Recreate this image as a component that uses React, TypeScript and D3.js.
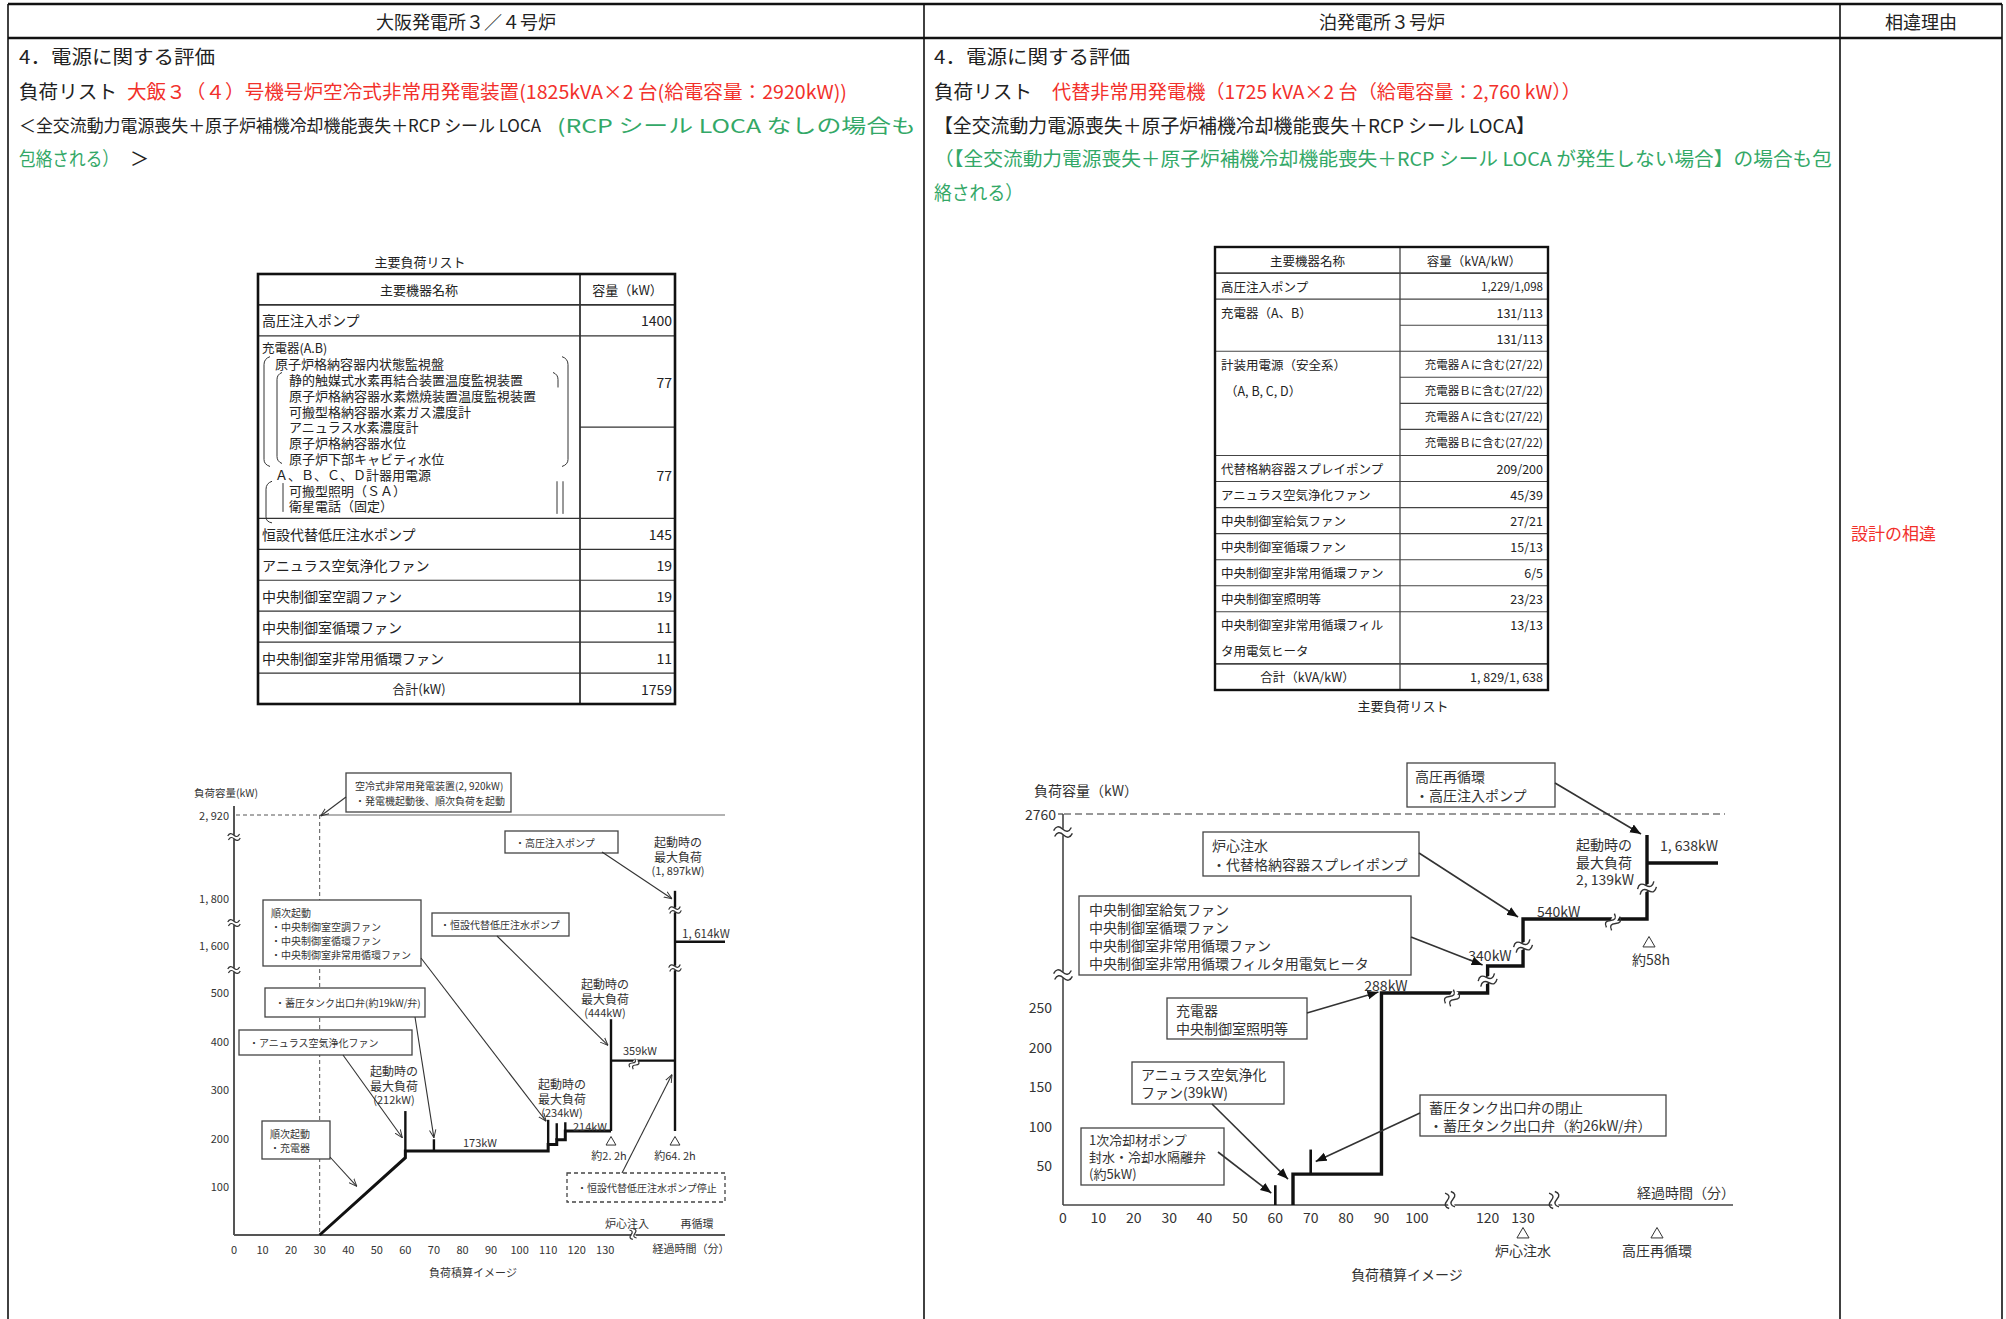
import React from "react";
import * as d3 from "d3";

type P = [number, number];

const JP = "'Noto Sans CJK JP', 'Noto Sans', sans-serif";
const RED = "#f2302b";
const GREEN = "#33a867";
const INK = "#222";

// ---------- document text ----------
const headCols = ["大阪発電所３／４号炉", "泊発電所３号炉", "相違理由"];

// ---------- 大飯 load table ----------
const ohiPump = { name: "高圧注入ポンプ", kw: "1400" };
const ohiChargerLines = [
  { t: "充電器(A.B)", lv: 0 },
  { t: "原子炉格納容器内状態監視盤", lv: 1 },
  { t: "静的触媒式水素再結合装置温度監視装置", lv: 2 },
  { t: "原子炉格納容器水素燃焼装置温度監視装置", lv: 2 },
  { t: "可搬型格納容器水素ガス濃度計", lv: 2 },
  { t: "アニュラス水素濃度計", lv: 2 },
  { t: "原子炉格納容器水位", lv: 2 },
  { t: "原子炉下部キャビティ水位", lv: 2 },
  { t: "Ａ、Ｂ、Ｃ、Ｄ計器用電源", lv: 1 },
  { t: "可搬型照明（ＳＡ）", lv: 2 },
  { t: "衛星電話（固定）", lv: 2 },
];
const ohiChargerKw = ["77", "77"];
const ohiRowNames = ["恒設代替低圧注水ポンプ", "アニュラス空気浄化ファン", "中央制御室空調ファン", "中央制御室循環ファン", "中央制御室非常用循環ファン"];
const ohiRowKw = ["145", "19", "19", "11", "11"];
const ohiTotal = "1759";

// ---------- 泊 load table ----------
const tomariRows = [
  { name: ["高圧注入ポンプ"], vals: ["1,229/1,098"], units: 1 },
  { name: ["充電器（A、B）"], vals: ["131/113", "131/113"], units: 2 },
  { name: ["計装用電源（安全系）", "（A, B, C, D）"], vals: ["充電器Ａに含む(27/22)", "充電器Ｂに含む(27/22)", "充電器Ａに含む(27/22)", "充電器Ｂに含む(27/22)"], units: 4 },
  { name: ["代替格納容器スプレイポンプ"], vals: ["209/200"], units: 1 },
  { name: ["アニュラス空気浄化ファン"], vals: ["45/39"], units: 1 },
  { name: ["中央制御室給気ファン"], vals: ["27/21"], units: 1 },
  { name: ["中央制御室循環ファン"], vals: ["15/13"], units: 1 },
  { name: ["中央制御室非常用循環ファン"], vals: ["6/5"], units: 1 },
  { name: ["中央制御室照明等"], vals: ["23/23"], units: 1 },
  { name: ["中央制御室非常用循環フィル", "タ用電気ヒータ"], vals: ["13/13"], units: 2 },
];
const tomariTotal = "1, 829/1, 638";

// ---------- 大飯 load chart (min, kW) ----------
const ohiXTicks = [0, 10, 20, 30, 40, 50, 60, 70, 80, 90, 100, 110, 120, 130];
const ohiYTicks = [100, 200, 300, 400, 500, 1600, 1800, 2920];
const ohiYTickLabels = ["100", "200", "300", "400", "500", "1, 600", "1, 800", "2, 920"];
const ohiLoadLine: P[] = [[30, 0], [60, 159], [60, 173], [110, 173], [110, 186], [113, 186], [113, 196], [116, 196], [116, 214], [132, 214]];
const ohiSpikes: [number, number, number][] = [[60, 173, 255], [70, 173, 197], [110, 186, 237], [113, 196, 230], [116, 214, 232]];
const ohiCoreLine: P[] = [[132, 214], [132, 444]];
const ohiRecircLine: P[] = [[132, 359], [3852, 359]];
const ohiPeakLine: P[] = [[3852, 214], [3852, 1897]];
const ohiSteadyKw = 1614;
const ohiCapacity = 2920;

// ---------- 泊 load chart (min, kW) ----------
const tomariXTicks = [0, 10, 20, 30, 40, 50, 60, 70, 80, 90, 100, 120, 130];
const tomariYTicks = [50, 100, 150, 200, 250];
const tomariLoadLine: P[] = [[65, 0], [65, 39], [90, 39], [90, 288], [120, 288], [120, 340], [131, 340], [131, 540], [3480, 540], [3480, 2139]];
const tomariSpikes: [number, number, number][] = [[60, 0, 25], [70, 39, 70]];
const tomariSteadyKw = 1638;
const tomariCapacity = 2760;

// scales (broken axes -> polylinear)
const lx = d3.scaleLinear().domain([0, 132, 3852]).range([234, 611, 675]);
const ly = d3.scaleLinear().domain([0, 500, 1600, 1800, 2920]).range([1235, 992, 945, 898, 815]);
const rx = d3.scaleLinear().domain([0, 130, 3480]).range([1063, 1523, 1647]);
const ry = d3.scaleLinear().domain([0, 250, 288, 340, 540, 1638, 2139, 2760]).range([1205, 1007, 993, 966, 919, 863, 835, 814]);

const lineGen = d3.line<P>();
const lPath = (pts: P[]) => lineGen(pts.map((d) => [lx(d[0]), ly(d[1])] as P)) || "";
const rPath = (pts: P[]) => lineGen(pts.map((d) => [rx(d[0]), ry(d[1])] as P)) || "";

function Brk({ x, y, rot = 0, w = 14, gap = 4, sw = 1.2 }: { x: number; y: number; rot?: number; w?: number; gap?: number; sw?: number }) {
  const h = w / 2;
  return (
    <g transform={`translate(${x},${y}) rotate(${rot})`} fill="none" stroke="#333" strokeWidth={sw}>
      <rect x={-h} y={-gap / 2} width={w} height={gap} fill="#fff" stroke="none" />
      <path d={`M${-h},${-gap / 2} q${w / 4},${-gap} ${h},0 t${h},0`} />
      <path d={`M${-h},${gap / 2} q${w / 4},${-gap} ${h},0 t${h},0`} />
    </g>
  );
}

function Box({ x, y, w, h, lines, fs, lh, pad = 8, dash }: { x: number; y: number; w: number; h: number; lines: string[]; fs: number; lh: number; pad?: number; dash?: string }) {
  return (
    <g>
      <rect x={x} y={y} width={w} height={h} fill="#fff" stroke="#444" strokeWidth={1.3} strokeDasharray={dash} />
      {lines.map((t, i) => (
        <text key={i} x={x + pad} y={y + h / 2 + (i - (lines.length - 1) / 2) * lh} fontSize={fs} dominantBaseline="central" fill="#333">{t}</text>
      ))}
    </g>
  );
}

function Arrow({ a, b, m, sw = 1.1 }: { a: P; b: P; m: string; sw?: number }) {
  return <line x1={a[0]} y1={a[1]} x2={b[0]} y2={b[1]} stroke="#333" strokeWidth={sw} markerEnd={`url(#${m})`} />;
}

function Tri({ x, y, s = 9 }: { x: number; y: number; s?: number }) {
  return <path d={`M${x},${y - s * 0.5} L${x + s * 0.55},${y + s * 0.45} L${x - s * 0.55},${y + s * 0.45} Z`} fill="#fff" stroke="#333" strokeWidth={1} />;
}

function OhiTable() {
  const x0 = 258, xm = 580, x1 = 675;
  const units = [1, 1, 5.9, ...ohiRowNames.map(() => 1), 1];
  const cum = [0, ...d3.cumsum(units)];
  const ty = d3.scaleLinear().domain([0, cum[cum.length - 1]]).range([274, 704]);
  const fs = 14;
  const chTop = ty(cum[2]);
  const lineY = (i: number) => chTop + 12 + i * 15.8;
  const indent = [262, 275, 289];
  return (
    <g fontSize={fs} fill={INK}>
      <text x={420} y={261} fontSize={13} textAnchor="middle" dominantBaseline="central">主要負荷リスト</text>
      {cum.slice(1, -1).map((c, i) => (
        <line key={i} x1={x0} x2={x1} y1={ty(c)} y2={ty(c)} stroke="#333" strokeWidth={i === 0 ? 1.8 : 1.2} />
      ))}
      <line x1={xm} x2={x1} y1={ty(cum[2] + 2.95)} y2={ty(cum[2] + 2.95)} stroke="#333" strokeWidth={1.2} />
      <line x1={xm} x2={xm} y1={ty(0)} y2={ty(cum[cum.length - 1])} stroke="#333" strokeWidth={1.8} />
      <rect x={x0} y={ty(0)} width={x1 - x0} height={ty(cum[cum.length - 1]) - ty(0)} fill="none" stroke="#111" strokeWidth={2.6} />
      <text x={(x0 + xm) / 2} y={ty(0.5)} textAnchor="middle" dominantBaseline="central" fontSize={13}>主要機器名称</text>
      <text x={(xm + x1) / 2} y={ty(0.5)} textAnchor="middle" dominantBaseline="central" fontSize={13}>容量（kW）</text>
      <text x={262} y={ty(1.5)} dominantBaseline="central">{ohiPump.name}</text>
      <text x={672} y={ty(1.5)} textAnchor="end" dominantBaseline="central">{ohiPump.kw}</text>
      {ohiChargerLines.map((l, i) => (
        <text key={i} x={indent[l.lv]} y={lineY(i)} dominantBaseline="central" fontSize={l.lv === 0 ? 12.5 : 13}>{l.t}</text>
      ))}
      {/* brackets */}
      <g fill="none" stroke="#333" strokeWidth={1}>
        <path d={`M270,${lineY(1) - 7} q-6,2 -6,8 v${lineY(7) - lineY(1)} q0,5 6,7`} />
        <path d={`M282,${lineY(2) - 7} q-5,2 -5,7 v${lineY(7) - lineY(2) - 2} q0,5 5,7`} />
        <path d={`M562,${lineY(1) - 7} q6,2 6,8 v${lineY(7) - lineY(1)} q0,5 -6,7`} />
        <path d={`M553,${lineY(2) - 7} q5,2 5,7 v8`} />
        <path d={`M272,${lineY(8) + 7} q-6,2 -6,8 v${lineY(10) - lineY(8) - 4} q0,5 6,6`} />
        <line x1={283} x2={283} y1={lineY(9) - 7} y2={lineY(10) + 6} />
        <line x1={557} x2={557} y1={lineY(8) + 7} y2={lineY(10) + 8} />
        <line x1={563} x2={563} y1={lineY(8) + 7} y2={lineY(10) + 8} />
      </g>
      <text x={672} y={ty(cum[2] + 1.5)} textAnchor="end" dominantBaseline="central">{ohiChargerKw[0]}</text>
      <text x={672} y={ty(cum[2] + 4.5)} textAnchor="end" dominantBaseline="central">{ohiChargerKw[1]}</text>
      {ohiRowNames.map((n, i) => (
        <g key={n}>
          <text x={262} y={ty(cum[3 + i] + 0.5)} dominantBaseline="central">{n}</text>
          <text x={672} y={ty(cum[3 + i] + 0.5)} textAnchor="end" dominantBaseline="central">{ohiRowKw[i]}</text>
        </g>
      ))}
      <text x={(x0 + xm) / 2} y={ty(cum[cum.length - 2] + 0.5)} textAnchor="middle" dominantBaseline="central" fontSize={13}>合計(kW)</text>
      <text x={672} y={ty(cum[cum.length - 2] + 0.5)} textAnchor="end" dominantBaseline="central">{ohiTotal}</text>
    </g>
  );
}

function TomariTable() {
  const x0 = 1215, xm = 1400, x1 = 1548;
  const units = [1, ...tomariRows.map((r) => r.units), 1];
  const cum = [0, ...d3.cumsum(units)];
  const total = cum[cum.length - 1];
  const ty = d3.scaleLinear().domain([0, total]).range([247, 690]);
  const fs = 12.5;
  return (
    <g fontSize={fs} fill={INK}>
      {cum.slice(1, -1).map((c, i) => (
        <line key={i} x1={x0} x2={x1} y1={ty(c)} y2={ty(c)} stroke="#444" strokeWidth={i === 0 || i === cum.length - 3 ? 1.8 : 1.1} />
      ))}
      {tomariRows.map((r, i) =>
        r.vals.length > 1
          ? r.vals.slice(1).map((_, j) => (
              <line key={`${i}-${j}`} x1={xm} x2={x1} y1={ty(cum[i + 1] + j + 1)} y2={ty(cum[i + 1] + j + 1)} stroke="#444" strokeWidth={1.1} />
            ))
          : null
      )}
      <line x1={xm} x2={xm} y1={ty(0)} y2={ty(total)} stroke="#444" strokeWidth={1.3} />
      <rect x={x0} y={ty(0)} width={x1 - x0} height={ty(total) - ty(0)} fill="none" stroke="#111" strokeWidth={2.4} />
      <text x={(x0 + xm) / 2} y={ty(0.5)} textAnchor="middle" dominantBaseline="central">主要機器名称</text>
      <text x={(xm + x1) / 2} y={ty(0.5)} textAnchor="middle" dominantBaseline="central">容量（kVA/kW）</text>
      {tomariRows.map((r, i) => (
        <g key={i}>
          {r.name.map((n, k) => (
            <text key={k} x={k > 0 && r.units === 4 ? 1225 : 1221} y={ty(cum[i + 1] + k + 0.5)} dominantBaseline="central">{n}</text>
          ))}
          {r.vals.map((v, k) => (
            <text key={k} x={1543} y={ty(cum[i + 1] + k + 0.5)} textAnchor="end" dominantBaseline="central" fontSize={v.length > 10 ? 11.5 : fs}>{v}</text>
          ))}
        </g>
      ))}
      <text x={(x0 + xm) / 2} y={ty(total - 0.5)} textAnchor="middle" dominantBaseline="central">合計（kVA/kW）</text>
      <text x={1543} y={ty(total - 0.5)} textAnchor="end" dominantBaseline="central">{tomariTotal}</text>
      <text x={1403} y={705} fontSize={13} textAnchor="middle" dominantBaseline="central">主要負荷リスト</text>
    </g>
  );
}

function OhiChart() {
  const axR = 725;
  const y0 = ly(0);
  const fsB = 10;
  return (
    <g fill="#333">
      <text x={194} y={792} fontSize={10.5} dominantBaseline="central">負荷容量(kW)</text>
      {/* capacity line */}
      <line x1={236} x2={lx(30)} y1={ly(ohiCapacity)} y2={ly(ohiCapacity)} stroke="#555" strokeDasharray="4,3" strokeWidth={1} />
      <line x1={lx(30)} x2={axR} y1={ly(ohiCapacity)} y2={ly(ohiCapacity)} stroke="#666" strokeWidth={1.2} />
      <line x1={lx(30)} x2={lx(30)} y1={ly(ohiCapacity)} y2={y0} stroke="#555" strokeDasharray="4,3" strokeWidth={1} />
      {/* axes */}
      <line x1={234} x2={234} y1={806} y2={y0} stroke="#555" strokeWidth={2} />
      <line x1={234} x2={axR} y1={y0} y2={y0} stroke="#555" strokeWidth={2} />
      {ohiYTicks.map((t, i) => (
        <text key={t} x={229} y={ly(t)} fontSize={11} textAnchor="end" dominantBaseline="central">{ohiYTickLabels[i]}</text>
      ))}
      {ohiXTicks.map((t) => (
        <text key={t} x={lx(t)} y={1249} fontSize={11} textAnchor="middle" dominantBaseline="central">{t}</text>
      ))}
      <Brk x={234} y={837} rot={-10} w={12} gap={4} />
      <Brk x={234} y={923} rot={-10} w={12} gap={4} />
      <Brk x={234} y={970} rot={-10} w={12} gap={4} />
      <Brk x={633} y={1234} rot={70} w={10} gap={4} />
      <text x={627} y={1223} fontSize={11} textAnchor="middle" dominantBaseline="central">炉心注入</text>
      <text x={697} y={1223} fontSize={11} textAnchor="middle" dominantBaseline="central">再循環</text>
      <text x={691} y={1248} fontSize={11} textAnchor="middle" dominantBaseline="central">経過時間（分）</text>
      <text x={473} y={1272} fontSize={11} textAnchor="middle" dominantBaseline="central">負荷積算イメージ</text>

      {/* load profile */}
      <g fill="none" stroke="#111" strokeWidth={3}>
        <path d={lPath(ohiLoadLine)} strokeLinejoin="miter" />
        {ohiSpikes.map(([t, a, b], i) => (
          <path key={i} d={lPath([[t, a], [t, b]])} strokeWidth={2.4} />
        ))}
        <path d={lPath(ohiCoreLine)} strokeWidth={2.4} />
        <path d={lPath(ohiRecircLine)} strokeWidth={2.2} />
        <path d={lPath(ohiPeakLine)} strokeWidth={2.4} />
        <line x1={lx(3852)} x2={axR} y1={ly(ohiSteadyKw)} y2={ly(ohiSteadyKw)} strokeWidth={2.4} />
      </g>
      <Brk x={634} y={1064} rot={-60} w={10} gap={4} />
      <Brk x={lx(3852)} y={910} rot={-15} w={12} gap={4} />
      <Brk x={lx(3852)} y={968} rot={-15} w={12} gap={4} />
      <Tri x={lx(132)} y={1141} />
      <Tri x={lx(3852)} y={1141} />
      <text x={lx(132) - 2} y={1155} fontSize={11} textAnchor="middle" dominantBaseline="central">約2. 2h</text>
      <text x={lx(3852)} y={1155} fontSize={11} textAnchor="middle" dominantBaseline="central">約64. 2h</text>

      {/* value labels */}
      <text x={480} y={1142} fontSize={11} textAnchor="middle" dominantBaseline="central">173kW</text>
      <text x={590} y={1126} fontSize={11} textAnchor="middle" dominantBaseline="central">214kW</text>
      <text x={640} y={1050} fontSize={11} textAnchor="middle" dominantBaseline="central">359kW</text>
      <text x={682} y={933} fontSize={11.5} dominantBaseline="central">1, 614kW</text>
      {[
        { x: 394, y: 1070, v: "(212kW)" },
        { x: 562, y: 1083, v: "(234kW)" },
        { x: 605, y: 983, v: "(444kW)" },
        { x: 678, y: 841, v: "(1, 897kW)" },
      ].map((d) => (
        <g key={d.v} fontSize={12} textAnchor="middle">
          <text x={d.x} y={d.y} dominantBaseline="central">起動時の</text>
          <text x={d.x} y={d.y + 15} dominantBaseline="central">最大負荷</text>
          <text x={d.x} y={d.y + 29} dominantBaseline="central" fontSize={11}>{d.v}</text>
        </g>
      ))}

      {/* annotation boxes */}
      <Box x={346} y={773} w={165} h={39} lines={["空冷式非常用発電装置(2, 920kW)", " ・発電機起動後、順次負荷を起動"]} fs={fsB} lh={15} pad={9} />
      <Box x={505} y={831} w={113} h={22} lines={["・高圧注入ポンプ"]} fs={fsB} lh={14} pad={10} />
      <Box x={263} y={900} w={158} h={66} lines={["順次起動", "・中央制御室空調ファン", "・中央制御室循環ファン", "・中央制御室非常用循環ファン"]} fs={fsB} lh={14} pad={8} />
      <Box x={432} y={913} w={137} h={23} lines={["・恒設代替低圧注水ポンプ"]} fs={fsB} lh={14} pad={8} />
      <Box x={265} y={988} w={160} h={29} lines={["・蓄圧タンク出口弁(約19kW/弁)"]} fs={fsB} lh={14} pad={10} />
      <Box x={239} y={1030} w={173} h={25} lines={["・アニュラス空気浄化ファン"]} fs={fsB} lh={14} pad={10} />
      <Box x={262} y={1121} w={68} h={38} lines={["順次起動", " ・充電器"]} fs={fsB} lh={14} pad={8} />
      <Box x={567} y={1173} w={158} h={29} lines={["・恒設代替低圧注水ポンプ停止"]} fs={fsB} lh={14} pad={10} dash="4,3" />

      <g>
        <Arrow a={[346, 797]} b={[lx(30) + 1, ly(ohiCapacity) + 1]} m="open" />
        <Arrow a={[602, 852]} b={[lx(3852) - 3, ly(1897) + 8]} m="open" />
        <Arrow a={[421, 958]} b={[lx(110) - 2, ly(234)]} m="open" />
        <Arrow a={[497, 936]} b={[lx(132) - 3, ly(390)]} m="open" />
        <Arrow a={[415, 1017]} b={[lx(70), ly(200)]} m="open" />
        <Arrow a={[343, 1055]} b={[lx(60) - 3, ly(200)]} m="open" />
        <Arrow a={[330, 1157]} b={[lx(43), ly(100)]} m="open" />
        <Arrow a={[622, 1173]} b={[lx(3852) - 3, ly(330)]} m="open" />
      </g>
    </g>
  );
}

function TomariChart() {
  const axR = 1733;
  const y0 = ry(0);
  const fs = 14;
  return (
    <g fill="#333">
      <text x={1034} y={790} fontSize={14} dominantBaseline="central">負荷容量（kW）</text>
      <line x1={1064} x2={1725} y1={ry(tomariCapacity)} y2={ry(tomariCapacity)} stroke="#777" strokeDasharray="7,4" strokeWidth={1.4} />
      <line x1={1063} x2={1063} y1={ry(tomariCapacity)} y2={y0} stroke="#444" strokeWidth={1.6} />
      <line x1={1063} x2={axR} y1={y0} y2={y0} stroke="#444" strokeWidth={1.6} />
      <line x1={1058} x2={1063} y1={ry(tomariCapacity)} y2={ry(tomariCapacity)} stroke="#444" strokeWidth={1.2} />
      <text x={1056} y={ry(tomariCapacity)} fontSize={14} textAnchor="end" dominantBaseline="central">{tomariCapacity}</text>
      {tomariYTicks.map((t) => (
        <text key={t} x={1052} y={ry(t)} fontSize={fs} textAnchor="end" dominantBaseline="central">{t}</text>
      ))}
      {tomariXTicks.map((t) => (
        <text key={t} x={rx(t)} y={1217} fontSize={fs} textAnchor="middle" dominantBaseline="central">{t}</text>
      ))}
      <Brk x={1063} y={832} rot={-10} w={18} gap={6} sw={1.4} />
      <Brk x={1063} y={975} rot={-10} w={18} gap={6} sw={1.4} />
      <Brk x={1450} y={1200} rot={75} w={16} gap={6} sw={1.4} />
      <Brk x={1554} y={1200} rot={75} w={16} gap={6} sw={1.4} />
      <text x={1686} y={1192} fontSize={fs} textAnchor="middle" dominantBaseline="central">経過時間（分）</text>
      <Tri x={rx(130)} y={1233} s={11} />
      <text x={rx(130)} y={1250} fontSize={fs} textAnchor="middle" dominantBaseline="central">炉心注水</text>
      <Tri x={rx(3480) + 10} y={1233} s={11} />
      <text x={rx(3480) + 10} y={1250} fontSize={fs} textAnchor="middle" dominantBaseline="central">高圧再循環</text>
      <text x={1407} y={1274} fontSize={14} textAnchor="middle" dominantBaseline="central">負荷積算イメージ</text>

      <g fill="none" stroke="#111" strokeWidth={3.4}>
        <path d={rPath(tomariLoadLine)} strokeLinejoin="miter" />
        {tomariSpikes.map(([t, a, b], i) => (
          <path key={i} d={rPath([[t, a], [t, b]])} strokeWidth={2.6} />
        ))}
        <line x1={rx(3480)} x2={1718} y1={ry(tomariSteadyKw)} y2={ry(tomariSteadyKw)} />
      </g>
      <Brk x={1452} y={998} rot={-60} w={16} gap={6} sw={1.4} />
      <Brk x={rx(120)} y={980} rot={-25} w={18} gap={6} sw={1.4} />
      <Brk x={rx(131)} y={946} rot={-25} w={18} gap={6} sw={1.4} />
      <Brk x={1613} y={922} rot={-60} w={16} gap={6} sw={1.4} />
      <Brk x={rx(3480)} y={888} rot={-25} w={18} gap={6} sw={1.4} />
      <Tri x={1649} y={942} s={11} />
      <text x={1651} y={959} fontSize={fs} textAnchor="middle" dominantBaseline="central">約58h</text>

      <text x={1386} y={985} fontSize={fs} textAnchor="middle" dominantBaseline="central">288kW</text>
      <text x={1490} y={955} fontSize={fs} textAnchor="middle" dominantBaseline="central">340kW</text>
      <text x={1537} y={911} fontSize={fs} dominantBaseline="central">540kW</text>
      <text x={1660} y={845} fontSize={fs} dominantBaseline="central">1, 638kW</text>
      <g fontSize={fs}>
        <text x={1576} y={844} dominantBaseline="central">起動時の</text>
        <text x={1576} y={862} dominantBaseline="central">最大負荷</text>
        <text x={1576} y={879} dominantBaseline="central">2, 139kW</text>
      </g>

      <Box x={1407} y={763} w={148} h={44} lines={["高圧再循環", " ・高圧注入ポンプ"]} fs={fs} lh={19} pad={8} />
      <Box x={1203} y={832} w={216} h={44} lines={["炉心注水", " ・代替格納容器スプレイポンプ"]} fs={fs} lh={19} pad={9} />
      <Box x={1079} y={896} w={332} h={79} lines={["中央制御室給気ファン", "中央制御室循環ファン", "中央制御室非常用循環ファン", "中央制御室非常用循環フィルタ用電気ヒータ"]} fs={fs} lh={18} pad={10} />
      <Box x={1167} y={998} w={140} h={41} lines={["充電器", "中央制御室照明等"]} fs={fs} lh={18} pad={9} />
      <Box x={1132} y={1062} w={152} h={42} lines={["アニュラス空気浄化", "ファン(39kW)"]} fs={fs} lh={18} pad={9} />
      <Box x={1081} y={1128} w={143} h={57} lines={["1次冷却材ポンプ", "封水・冷却水隔離弁", "(約5kW)"]} fs={13} lh={17} pad={8} />
      <Box x={1420} y={1095} w={246} h={41} lines={["蓄圧タンク出口弁の閉止", "・蓄圧タンク出口弁（約26kW/弁）"]} fs={fs} lh={18} pad={9} />

      <g>
        <Arrow a={[1555, 783]} b={[rx(3480) - 6, ry(2139) - 1]} m="solid" sw={1.6} />
        <Arrow a={[1419, 853]} b={[rx(131) - 5, ry(540) - 2]} m="solid" sw={1.6} />
        <Arrow a={[1411, 937]} b={[rx(120) - 5, ry(340) - 1]} m="solid" sw={1.6} />
        <Arrow a={[1307, 1013]} b={[rx(90) - 3, ry(288) - 1]} m="solid" sw={1.6} />
        <Arrow a={[1212, 1104]} b={[rx(65) - 5, ry(39) + 5]} m="solid" sw={1.6} />
        <Arrow a={[1218, 1152]} b={[rx(60) - 4, ry(15)]} m="solid" sw={1.6} />
        <Arrow a={[1420, 1113]} b={[rx(70) + 5, ry(55)]} m="solid" sw={1.6} />
      </g>
    </g>
  );
}

export default function App() {
  const W = 2006, H = 1319;
  const cols = [8, 924, 1840, 2002];
  return (
    <svg width={W} height={H} style={{ position: "absolute", left: 0, top: 0, background: "#fff" }} fontFamily={JP}>
      <defs>
        <marker id="open" viewBox="0 0 10 10" refX="10" refY="5" markerWidth="8" markerHeight="8" orient="auto" markerUnits="userSpaceOnUse">
          <path d="M0,1 L10,5 L0,9" fill="none" stroke="#333" strokeWidth="1.2" />
        </marker>
        <marker id="solid" viewBox="0 0 10 10" refX="10" refY="5" markerWidth="11" markerHeight="11" orient="auto" markerUnits="userSpaceOnUse">
          <path d="M0,1 L10,5 L0,9 Z" fill="#111" />
        </marker>
      </defs>
      <rect width={W} height={H} fill="#fff" />

      {/* document grid */}
      <line x1={cols[0]} x2={cols[3]} y1={4} y2={4} stroke="#111" strokeWidth={2.6} />
      <line x1={cols[0]} x2={cols[3]} y1={38} y2={38} stroke="#111" strokeWidth={2.6} />
      {cols.map((c) => (
        <line key={c} x1={c} x2={c} y1={4} y2={H} stroke="#111" strokeWidth={1.6} />
      ))}
      <g fontSize={18} fill={INK} textAnchor="middle" dominantBaseline="central">
        <text x={(cols[0] + cols[1]) / 2} y={21}>{headCols[0]}</text>
        <text x={(cols[1] + cols[2]) / 2} y={21}>{headCols[1]}</text>
        <text x={(cols[2] + cols[3]) / 2} y={21}>{headCols[2]}</text>
      </g>

      {/* left column text */}
      <g fontSize={19} dominantBaseline="central" fill={INK}>
        <text x={19} y={55} textLength={196} lengthAdjust="spacingAndGlyphs">4．電源に関する評価</text>
        <text x={19} y={90} textLength={98} lengthAdjust="spacingAndGlyphs">負荷リスト</text>
        <text x={127} y={90} fill={RED} textLength={720} lengthAdjust="spacingAndGlyphs">大飯３（４）号機号炉空冷式非常用発電装置(1825kVA×2 台(給電容量：2920kW))</text>
        <text x={19} y={124} fontSize={17.5} textLength={522} lengthAdjust="spacingAndGlyphs">＜全交流動力電源喪失＋原子炉補機冷却機能喪失＋RCP シール LOCA</text>
        <text x={557} y={124} fill={GREEN} textLength={359} lengthAdjust="spacingAndGlyphs">(RCP シール LOCA なしの場合も</text>
        <text x={19} y={157} fill={GREEN} textLength={100} lengthAdjust="spacingAndGlyphs">包絡される）</text>
        <text x={130} y={157}>＞</text>
      </g>

      {/* right column text */}
      <g fontSize={19} dominantBaseline="central" fill={INK}>
        <text x={934} y={55} textLength={196} lengthAdjust="spacingAndGlyphs">4．電源に関する評価</text>
        <text x={934} y={90} textLength={98} lengthAdjust="spacingAndGlyphs">負荷リスト</text>
        <text x={1052} y={90} fill={RED} textLength={529} lengthAdjust="spacingAndGlyphs">代替非常用発電機（1725 kVA×2 台（給電容量：2,760 kW））</text>
        <text x={934} y={124} textLength={601} lengthAdjust="spacingAndGlyphs">【全交流動力電源喪失＋原子炉補機冷却機能喪失＋RCP シール LOCA】</text>
        <text x={934} y={157} fill={GREEN} textLength={898} lengthAdjust="spacingAndGlyphs">（【全交流動力電源喪失＋原子炉補機冷却機能喪失＋RCP シール LOCA が発生しない場合】の場合も包</text>
        <text x={934} y={191} fill={GREEN} textLength={89} lengthAdjust="spacingAndGlyphs">絡される）</text>
      </g>

      <text x={1851} y={532} fontSize={17} fill={RED} dominantBaseline="central">設計の相違</text>

      <OhiTable />
      <TomariTable />
      <OhiChart />
      <TomariChart />
    </svg>
  );
}
